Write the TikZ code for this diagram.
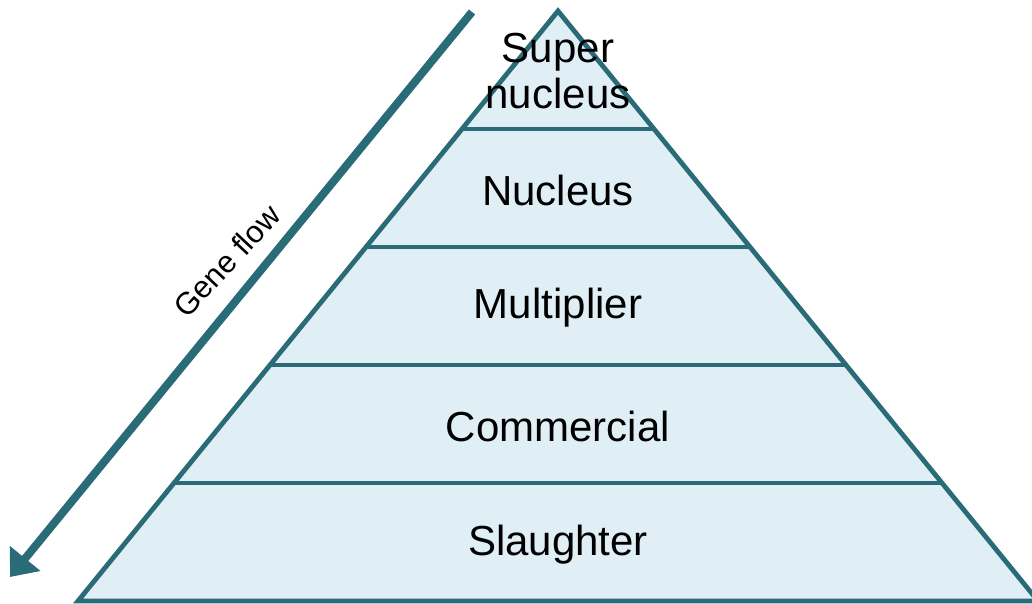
\documentclass[tikz,border=0pt]{standalone}
\usepackage{fontspec}
\setmainfont{Liberation Sans}
\usetikzlibrary{calc,arrows.meta}
\definecolor{teal1}{HTML}{2A6B78}
\definecolor{fill1}{HTML}{E0EEF5}
\tikzset{
  layerline/.style={draw=teal1,line width=4.8pt},
  layerlabel/.style={font=\fontsize{42}{46}\selectfont,align=center,text=black,inner sep=0pt},
  flowarrow/.style={draw=teal1,line width=8pt,-{Triangle[length=24pt,width=38pt]}},
}
\begin{document}
\begin{tikzpicture}[x=1pt,y=-1pt]
\useasboundingbox (0,0) rectangle (1032,603);
\clip (0,0) rectangle (1032,603);
\coordinate (apex) at (558,11);
\coordinate (bl) at (78,601);
\coordinate (br) at (1038,601);
\filldraw[fill=fill1,layerline,line join=miter] (apex) -- (bl) -- (br) -- cycle;
\foreach \t/\n in {0.2/a,0.4/b,0.6/c,0.8/d}{
  \coordinate (l\n) at ($(apex)!\t!(bl)$);
  \coordinate (r\n) at ($(apex)!\t!(br)$);
  \draw[layerline] (l\n) -- (r\n);
}
\node[layerlabel] (super) at (558,71) {Super\\nucleus};
\node[layerlabel] (nucleus) at (558,190) {Nucleus};
\node[layerlabel] (mult) at (558,308) {Multiplier};
\node[layerlabel] (comm) at (558,426) {Commercial};
\node[layerlabel] (slau) at (558,545) {Slaughter};
\coordinate (fs) at (472,12);
\coordinate (fe) at (10,577);
\draw[flowarrow] (fs) -- (fe);
\node[font=\fontsize{31}{34}\selectfont,rotate=47,inner sep=0pt] (gene) at (227,261) {Gene flow};
\end{tikzpicture}
\end{document}
